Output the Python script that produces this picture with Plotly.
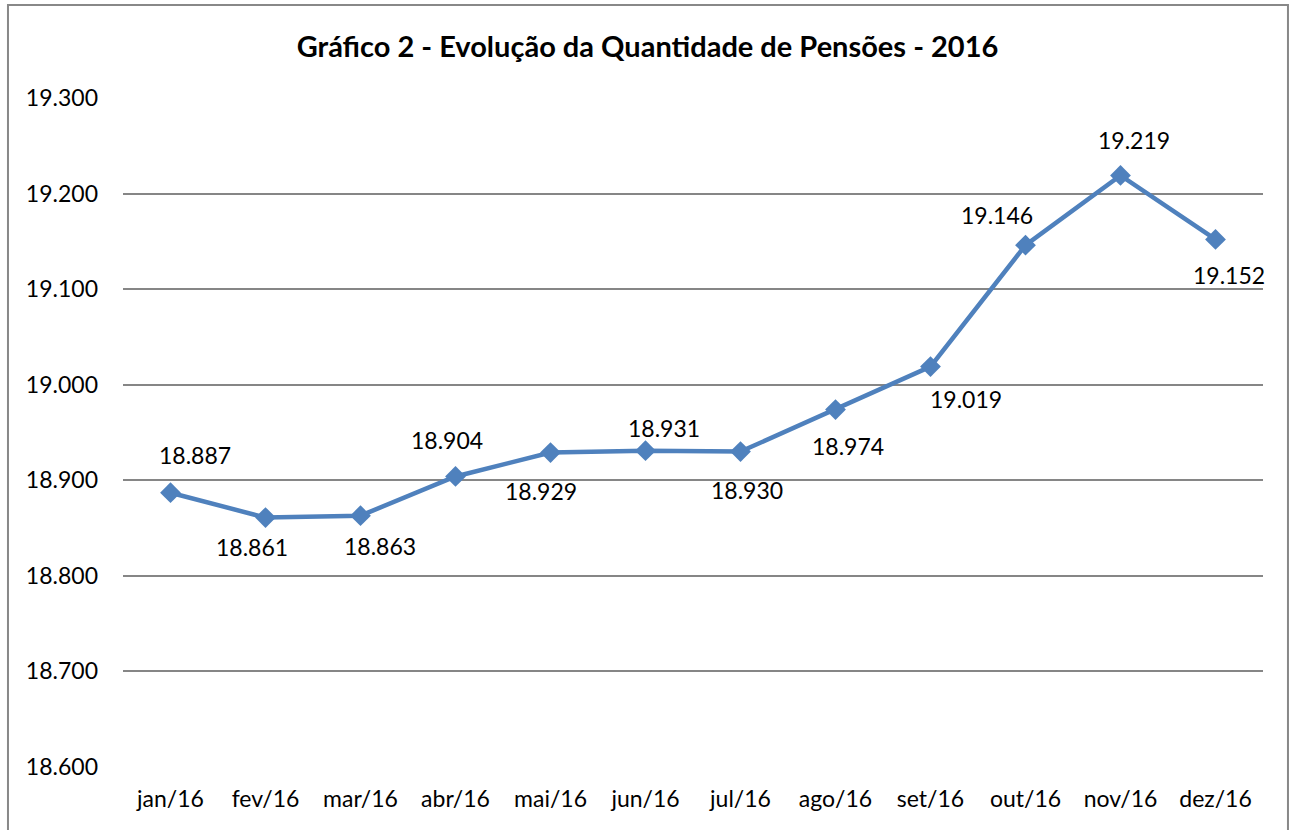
import plotly.graph_objects as go

meses = ["jan/16", "fev/16", "mar/16", "abr/16", "mai/16", "jun/16",
         "jul/16", "ago/16", "set/16", "out/16", "nov/16", "dez/16"]
pensoes = [18887, 18861, 18863, 18904, 18929, 18931,
           18930, 18974, 19019, 19146, 19219, 19152]
y_ticks = [18600, 18700, 18800, 18900, 19000, 19100, 19200, 19300]

# label offsets in pixels (style)
label_dx = [24, -14, 19, -9, -10, 18, 6, 12, 35, -29, 13, 13]
label_dy = [38, -29, -30, 36, -38, 23, -38, -36, -32, 30, 35, -36]


def fmt(v):
    return f"{v:,.0f}".replace(",", ".")


FONT = "Lato, Calibri, 'Open Sans', sans-serif"
FS = 23

fig = go.Figure()
xs = list(range(len(meses)))
fig.add_trace(go.Scatter(
    x=xs, y=pensoes,
    mode="lines+markers",
    line=dict(color="#4F81BD", width=4.5),
    marker=dict(symbol="diamond", size=16, color="#4F81BD"),
    cliponaxis=False,
    hoverinfo="skip",
))

annotations = [
    dict(x=x, y=v, xref="x", yref="y", text=fmt(v), showarrow=False,
         xshift=dx, yshift=dy, font=dict(family=FONT, size=FS, color="#000000"))
    for x, v, dx, dy in zip(xs, pensoes, label_dx, label_dy)
]

fig.update_layout(
    width=1295, height=830,
    margin=dict(l=123, r=32, t=98, b=63),
    paper_bgcolor="white", plot_bgcolor="white",
    showlegend=False,
    title=dict(text="<b>Gráfico 2 - Evolução da Quantidade de Pensões - 2016</b>",
               x=0.5, xanchor="center", y=0.9434, yanchor="middle",
               font=dict(family=FONT, size=29, color="#000000")),
    xaxis=dict(
        range=[-0.5, 11.5],
        tickmode="array", tickvals=xs, ticktext=meses,
        showgrid=False, zeroline=False, showline=False, ticks="",
        ticklabelstandoff=16,
        tickfont=dict(family=FONT, size=FS, color="#000000"),
        fixedrange=True,
    ),
    yaxis=dict(
        range=[18600, 19300],
        tickmode="array", tickvals=y_ticks, ticktext=[fmt(v) for v in y_ticks],
        showgrid=True, gridcolor="#868686", gridwidth=1.5,
        zeroline=False, showline=False, ticks="",
        ticklabelstandoff=24,
        tickfont=dict(family=FONT, size=FS, color="#000000"),
        fixedrange=True,
    ),
    annotations=annotations,
    shapes=[dict(type="rect", xref="paper", yref="paper",
                 x0=-0.1009, x1=1.0219, y0=-0.15, y1=1.139,
                 line=dict(color="#888888", width=2), fillcolor="rgba(0,0,0,0)",
                 layer="below")],
)

fig.write_html("out.html", config={"displayModeBar": False},
               post_script="document.body.style.margin='0';")
